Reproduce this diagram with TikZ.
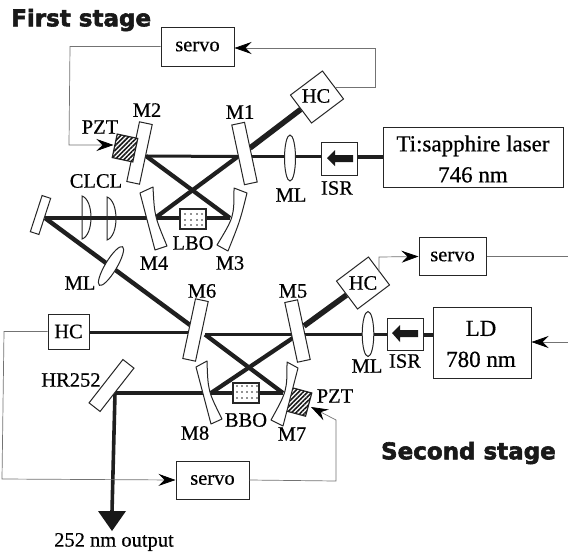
\documentclass[tikz,border=0pt]{standalone}
\usepackage{fontspec}
\setmainfont[RawFeature={embolden=0.5}]{Liberation Serif}
\font\headfnt="DejaVu Sans/B:embolden=2.5" at 23pt
\usetikzlibrary{arrows.meta,patterns,patterns.meta,backgrounds,calc}
\tikzset{
  lab/.style={inner sep=0pt,font=\fontsize{20.5}{20.5}\selectfont},
  head/.style={inner sep=0pt,font=\headfnt,text=black!90},
  box/.style={draw=black!85,line width=1pt,fill=white,inner sep=0pt,font=\fontsize{20.5}{20.5}\selectfont},
  bigtext/.style={inner sep=0pt,align=center,font=\fontsize{23}{31}\selectfont},
  mirror/.style={draw=black!85,line width=1pt,fill=white,inner sep=0pt,minimum width=#1},
  mirror/.default=13pt,
  curved/.style={draw=black!85,line width=1pt,fill=white,line join=round},
  pzt/.style={draw=black!85,line width=1.2pt,fill=white,inner sep=0pt,
     postaction={pattern={Lines[angle=45,distance=3.2pt,line width=1.6pt]},pattern color=black!90}},
  beam/.style={line width=#1,draw=black!88},
  ctl/.style={draw=black!55,line width=.7pt,line join=miter},
  ctlarrow/.style={ctl,-{Stealth[length=17pt,width=12pt,inset=6pt,black]}},
  dotc/.style={fill=black!85,draw=none},
}
\begin{document}
\begin{tikzpicture}[x=1pt,y=-1pt]
\useasboundingbox (0,0) rectangle (568,555);

% beam end points
\coordinate (hitM2) at (146,156);
\coordinate (hitM1) at (238,156.5);
\coordinate (hitM1b) at (250,148);
\coordinate (hitM3) at (230,218);
\coordinate (hitM4) at (155,218);
\coordinate (hitL) at (45,218);
\coordinate (hitM6) at (190,325);
\coordinate (hitM5b) at (304,326);
\coordinate (hitM6r) at (205,334.5);
\coordinate (hitM5) at (298,334.5);
\coordinate (hitM7) at (283,393);
\coordinate (hitM8) at (211,393);
\coordinate (hitHR) at (115,393);
\coordinate (hitHCw) at (190,332.5);
\coordinate (outTip) at (112,512);

% ---------- boxes ----------
\node[box,minimum width=73pt,minimum height=39pt] (servoA) at (197.5,46.5) {servo};
\node[box,minimum width=67pt,minimum height=38pt] (servoB) at (452.5,256.5) {servo};
\node[box,minimum width=73pt,minimum height=38pt] (servoC) at (212.5,480) {servo};
\node[box,minimum width=180pt,minimum height=60pt] (laser) at (473,157) {};
\node[bigtext] (lasert) at (473,159) {Ti:sapphire laser\\746 nm};
\node[box,minimum width=98pt,minimum height=71pt] (ld) at (482,342.5) {};
\node[bigtext] (ldt) at (481,344) {LD\\780 nm};
\node[box,minimum width=41pt,minimum height=35pt] (hc3) at (68.5,331.5) {HC};
\node[box,minimum width=36pt,minimum height=33pt] (isrA) at (339,158.5) {};
\node[box,minimum width=36pt,minimum height=32pt] (isrB) at (405,334) {};
\node[mirror,minimum width=40pt,minimum height=35pt,rotate=37] (hc1) at (317,97) {};
\node[inner sep=0pt,font=\fontsize{20.5}{20.5}\selectfont] (hc1t) at (316,96) {HC};
\node[mirror,minimum width=40pt,minimum height=35pt,rotate=37] (hc2) at (363,283) {};
\node[inner sep=0pt,font=\fontsize{20.5}{20.5}\selectfont] (hc2t) at (363,283) {HC};

% ---------- flat mirrors ----------
\node[mirror,minimum height=61pt,rotate=-12] (m2) at (139.5,153) {};
\node[mirror,minimum height=61pt,rotate=12] (m1) at (244.5,153.5) {};
\node[mirror,minimum height=61pt,rotate=12] (m5) at (297.5,331) {};
\node[mirror,minimum height=61pt,rotate=-12] (m6) at (195.5,330) {};
\node[mirror=9pt,minimum height=38pt,rotate=-18] (mL) at (40.5,215) {};
\node[mirror=14pt,minimum height=55pt,rotate=-38] (hr) at (111.5,385.5) {};

% ---------- PZT ----------
\node[pzt,minimum width=21pt,minimum height=24pt,rotate=-12] (pztA) at (125,148) {};
\node[pzt,minimum width=20pt,minimum height=24pt,rotate=-15] (pztB) at (299,402) {};

% ---------- crystals ----------
\node[box,line width=1.2pt,minimum width=26pt,minimum height=20pt] (lbo) at (193,219) {};
\node[box,line width=1.2pt,minimum width=26pt,minimum height=20pt] (bbo) at (246,393) {};

% ---------- beams ----------
\begin{scope}[on background layer]
  \fill[white] (0,0) rectangle (568,555);
  \draw[beam=3pt] (hitM2) -- (hitM1);
  \draw[beam=2.4pt] (hitM1) -- (isrA.west |- hitM1);
  \draw[beam=4pt] (isrA.east |- hitM1) -- (laser.west |- hitM1);
  \draw[beam=5.5pt] (hitM1b) -- (hc1);
  \draw[beam=4.2pt] (hitM2) -- (hitM3);
  \draw[beam=4.2pt] (hitM1) -- (hitM4);
  \draw[beam=3.2pt] (hitL) -- (hitM3);
  \draw[beam=4.4pt] (hitL) -- (hitM6);
  \draw[beam=3.4pt] (hc3.east |- hitHCw) -- (hitHCw);
  \draw[beam=3pt] (hitM6r) -- (hitM5);
  \draw[beam=3pt] (hitM5) -- (isrB.west |- hitM5);
  \draw[beam=4pt] (isrB.east |- hitM5) -- (ld.west |- hitM5);
  \draw[beam=5.5pt] (hitM5b) -- (hc2);
  \draw[beam=4.2pt] (hitM6r) -- (hitM7);
  \draw[beam=4.2pt] (hitM5) -- (hitM8);
  \draw[beam=3.4pt] (hitHR) -- (hitM7);
  \draw[beam=3.6pt] (hitHR) -- (outTip);
\end{scope}

% ---------- output arrow ----------
\fill[black!90] (98,511) -- (126,511) -- (112,531) -- cycle;

% ---------- curved mirrors ----------
\draw[curved] (140,193) -- (153,187) .. controls (154.5,216) .. (167,246) -- (155,250) -- cycle;
\draw[curved] (234,188) .. controls (234,217) .. (217,245) -- (228,251) .. controls (240,221) .. (247,193) -- cycle;
\draw[curved] (196,367) -- (207,361) .. controls (208,391) .. (222,419) -- (211,424) -- cycle;
\draw[curved] (287,362) .. controls (287,391) .. (271,420) -- (283,426) .. controls (291,397) .. (298,368) -- cycle;

% ---------- lenses ----------
\draw[draw=black!85,line width=1pt,fill=white] (290,158) ellipse [x radius=5.5pt,y radius=23pt];
\draw[draw=black!85,line width=1pt,fill=white] (368,334) ellipse [x radius=5.8pt,y radius=22.5pt];
\draw[draw=black!85,line width=1pt,fill=white,rotate around={-31:(111,266)}] (111,266) ellipse [x radius=5.8pt,y radius=22.5pt];
\draw[draw=black!85,line width=1pt] (82,196) .. controls (94,200) and (94,235) .. (82,239) -- cycle;
\draw[draw=black!85,line width=1pt] (107,197) .. controls (119,201) and (119,236) .. (107,240) -- cycle;

% ---------- crystal dots ----------
\foreach \y in {214,220,225}{\foreach \x in {185,191,197,202}{\fill[dotc] (\x,\y) circle (.9pt);}}
\foreach \y in {386,392,398}{\foreach \x in {237,242,247,252,257}{\fill[dotc] (\x,\y) circle (.9pt);}}

% ---------- isolator arrows ----------
\fill[black!90] (327,158) -- (335,150) -- (335,155) -- (353,155) -- (353,162) -- (335,162) -- (335,166) -- cycle;
\fill[black!90] (392,333) -- (400,325) -- (400,330) -- (418,330) -- (418,337) -- (400,337) -- (400,342) -- cycle;

% ---------- control lines ----------
\coordinate (a1) at (375,87);
\coordinate (a2) at (375,48);
\coordinate (a3) at (70,46.5);
\coordinate (a4) at (69,145);
\coordinate (b1) at (379,257);
\coordinate (c1) at (336,481);
\coordinate (c2) at (336,420);
\coordinate (c3) at (311,407);
\coordinate (d1) at (4,331.5);
\coordinate (d2) at (2,479);
\coordinate (e1) at (568,342);
\coordinate (e2) at (568,256.5);
\coordinate (f1) at (336,87);
\coordinate (f2) at (379,272);
\coordinate (g1) at (113.5,145);
\draw[ctlarrow] (f1) -- (a1) -- (a2) -- (servoA.east |- a2);
\draw[ctlarrow] (servoA.west) -- (a3) -- (a4) -- (g1);
\draw[ctlarrow] (f2) -- (b1) -- (servoB.west);
\draw[ctl] (servoB.east) -- (e2);
\draw[ctlarrow] (e1) -- (ld.east |- e1);
\draw[ctlarrow] (hc3.west) -- (d1) -- (d2) -- (servoC.west);
\draw[ctlarrow] (servoC.east) -- (c1) -- (c2) -- (c3);

% ---------- labels ----------
\node[head,anchor=west] (t1) at (11,20) {First stage};
\node[head,anchor=east] (t2) at (556,453) {Second stage};
\node[lab] (lm2) at (147,110) {M2};
\node[lab] (lm1) at (240,112) {M1};
\node[lab] (lpzt1) at (100,127) {PZT};
\node[lab] (lcl) at (96,181) {CLCL};
\node[lab] (llbo) at (193,243) {LBO};
\node[lab] (lm4) at (154,263) {M4};
\node[lab] (lm3) at (230,263) {M3};
\node[lab] (lml1) at (291,195) {ML};
\node[lab] (lisr1) at (337,188) {ISR};
\node[lab] (lml3) at (80,283) {ML};
\node[lab] (lm6) at (202,291) {M6};
\node[lab] (lm5) at (293,291) {M5};
\node[lab] (lml2) at (367,366) {ML};
\node[lab] (lisr2) at (405,361) {ISR};
\node[lab] (lpzt2) at (335,396) {PZT};
\node[lab] (lhr) at (71,380) {HR252};
\node[lab] (lbbo) at (246,420) {BBO};
\node[lab] (lm8) at (195,433) {M8};
\node[lab] (lm7) at (292,434) {M7};
\node[lab] (lout) at (114,542) {252 nm output};
\end{tikzpicture}
\end{document}
